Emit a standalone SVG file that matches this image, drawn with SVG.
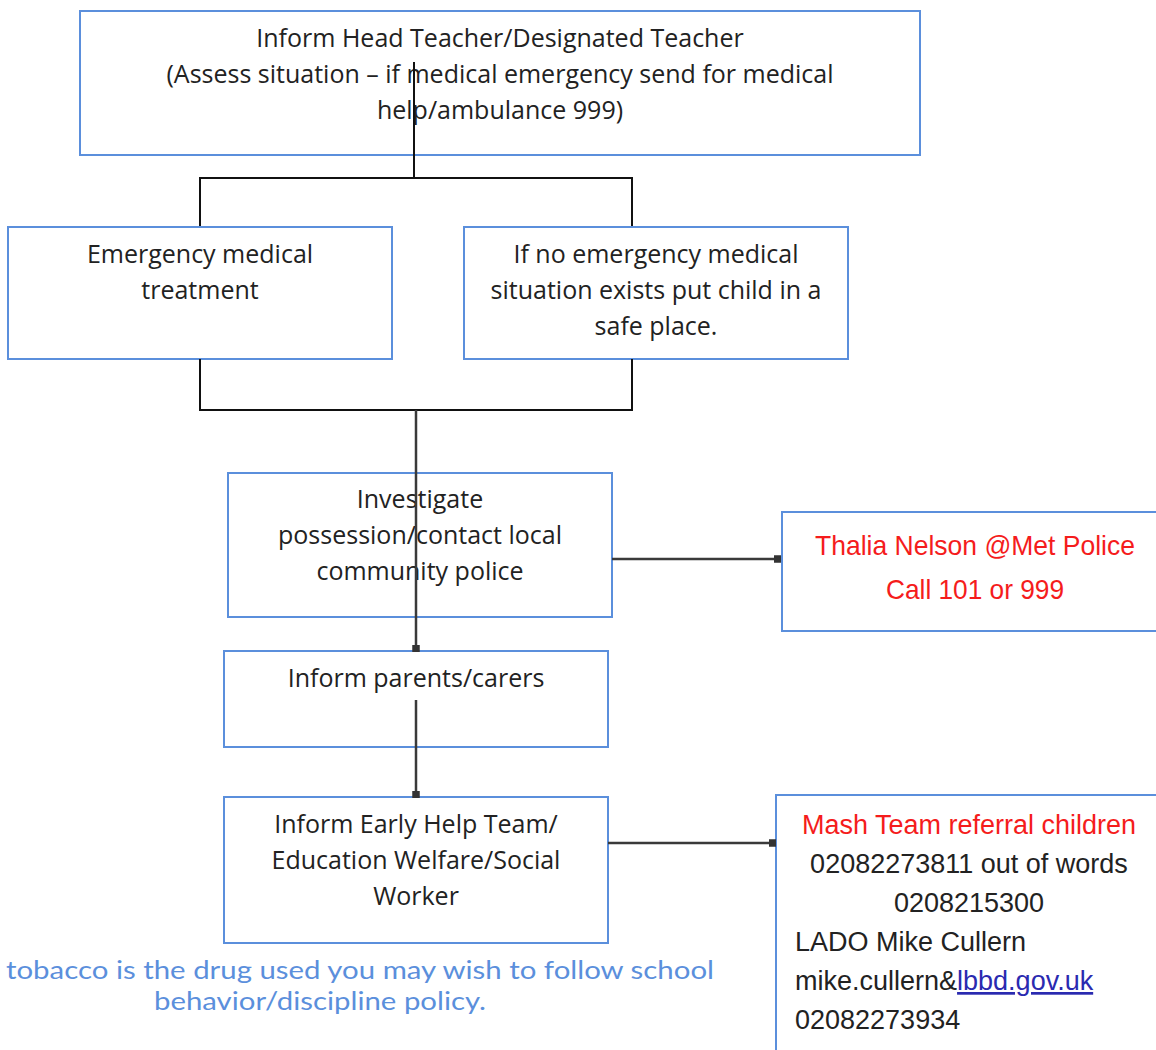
<svg xmlns="http://www.w3.org/2000/svg" width="1156" height="1050" viewBox="0 0 1156 1050">
<style>
.box{fill:#fff;stroke:#5b8fdc;stroke-width:2}
.t{font-family:"Open Sans",sans-serif;font-size:25px;fill:#222;text-anchor:middle}
.r{font-family:"Liberation Sans",sans-serif;font-size:28px;fill:#f51c1c;text-anchor:middle}
.m{font-family:"Liberation Sans",sans-serif;font-size:27px;fill:#222}
.n{font-family:Lato,"Open Sans",sans-serif;font-size:25px;fill:#5b8fdc;text-anchor:middle}
.c{fill:none;stroke:#111;stroke-width:2}
.a{fill:none;stroke:#3a3a3a;stroke-width:2.5}
</style>
<defs>
<marker id="sq" viewBox="0 0 6 6" refX="5" refY="3" markerWidth="3" markerHeight="3" orient="auto" markerUnits="strokeWidth">
<rect x="0" y="0" width="6" height="6" fill="#333"/>
</marker>
</defs>
<g id="n1"><rect class="box" x="80" y="11" width="840" height="144"/>
<text class="t" x="500" y="47">Inform Head Teacher/Designated Teacher</text>
<text class="t" x="500" y="83">(Assess situation – if medical emergency send for medical</text>
<text class="t" x="500" y="119">help/ambulance 999)</text></g>
<g id="n2"><rect class="box" x="8" y="227" width="384" height="132"/>
<text class="t" x="200" y="263">Emergency medical</text>
<text class="t" x="200" y="299">treatment</text></g>
<g id="n3"><rect class="box" x="464" y="227" width="384" height="132"/>
<text class="t" x="656" y="263">If no emergency medical</text>
<text class="t" x="656" y="299">situation exists put child in a</text>
<text class="t" x="656" y="335">safe place.</text></g>
<g id="n4"><rect class="box" x="228" y="473" width="384" height="144"/>
<text class="t" x="420" y="508">Investigate</text>
<text class="t" x="420" y="544">possession/contact local</text>
<text class="t" x="420" y="580">community police</text></g>
<g id="n5"><rect class="box" x="782" y="512" width="380" height="119"/>
<text class="r" x="975" y="555" textLength="320" lengthAdjust="spacingAndGlyphs">Thalia Nelson @Met Police</text>
<text class="r" x="975" y="599" textLength="178" lengthAdjust="spacingAndGlyphs">Call 101 or 999</text></g>
<g id="n6"><rect class="box" x="224" y="651" width="384" height="96"/>
<text class="t" x="416" y="687">Inform parents/carers</text></g>
<g id="n7"><rect class="box" x="224" y="797" width="384" height="146"/>
<text class="t" x="416" y="833">Inform Early Help Team/</text>
<text class="t" x="416" y="869">Education Welfare/Social</text>
<text class="t" x="416" y="905">Worker</text></g>
<g id="n8"><rect class="box" x="776" y="795" width="390" height="270"/>
<text class="m" x="969" y="834" text-anchor="middle" style="fill:#f51c1c">Mash Team referral children</text>
<text class="m" x="969" y="873" text-anchor="middle">02082273811 out of words</text>
<text class="m" x="969" y="912" text-anchor="middle">0208215300</text>
<text class="m" x="795" y="951">LADO Mike Cullern</text>
<text class="m" x="795" y="990">mike.cullern&amp;<tspan style="fill:#2a2ab0" text-decoration="underline">lbbd.gov.uk</tspan></text>
<text class="m" x="795" y="1029">02082273934</text></g>
<g id="note">
<text class="n" x="360" y="979" textLength="708" lengthAdjust="spacingAndGlyphs">tobacco is the drug used you may wish to follow school</text>
<text class="n" x="320" y="1010" textLength="332" lengthAdjust="spacingAndGlyphs">behavior/discipline policy.</text></g>
<g id="connectors">
<path class="c" d="M414 62V178M200 226V178H632V226"/>
<path class="c" d="M200 359V410H632V359"/>
<path class="a" d="M416 410V651" marker-end="url(#sq)"/>
<path class="a" d="M416 700V797" marker-end="url(#sq)"/>
<path class="a" d="M612 559H780" marker-end="url(#sq)"/>
<path class="a" d="M608 843H775" marker-end="url(#sq)"/>
</g>
</svg>
